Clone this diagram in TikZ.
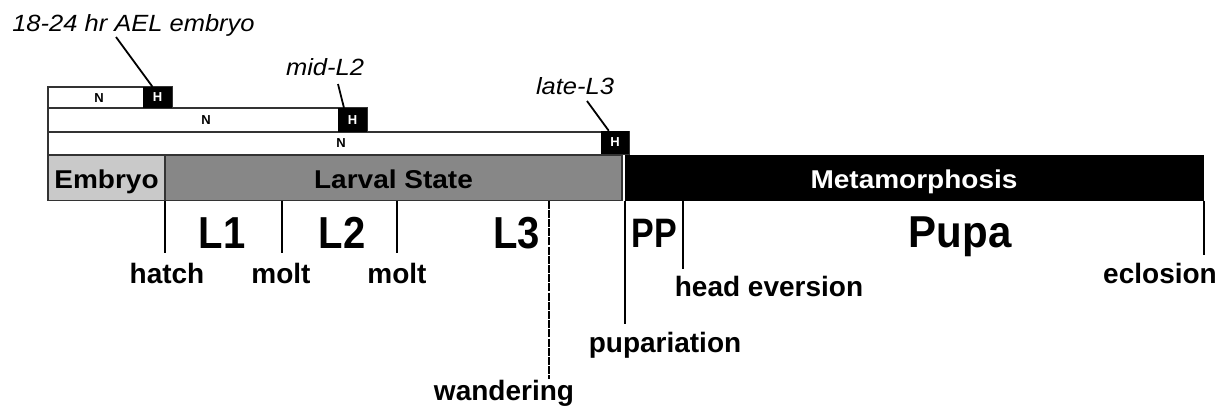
\documentclass[tikz,border=0pt]{standalone}
\usepackage{fontspec}
\setmainfont{Liberation Sans}
\usetikzlibrary{positioning}

\definecolor{embryogrey}{gray}{0.79}
\definecolor{larvalgrey}{gray}{0.53}
\definecolor{edgegrey}{gray}{0.2}

\tikzset{
  row/.style={draw=edgegrey, line width=1.2pt, fill=white},
  bar/.style={draw=edgegrey, line width=1.5pt},
  hbox/.style={fill=black, text=white, inner sep=0pt, minimum width=29pt, minimum height=21pt,
    font=\fontsize{13}{13}\selectfont\bfseries},
  nlbl/.style={inner sep=0pt, font=\fontsize{13}{13}\selectfont\bfseries},
  bartitle/.style={anchor=base, inner sep=0pt, font=\fontsize{28}{28}\selectfont\bfseries, yscale=0.92},
  stage/.style={anchor=base, inner sep=0pt, font=\fontsize{40}{40}\selectfont\bfseries, yscale=1.12},
  event/.style={anchor=base, inner sep=0pt, font=\fontsize{28}{28}\selectfont\bfseries},
  stamp/.style={anchor=base, inner sep=0pt, font=\fontsize{25.5}{25.5}\selectfont\itshape, yscale=0.92},
  leader/.style={line width=1.8pt},
  tick/.style={line width=2pt}
}

\begin{document}
\begin{tikzpicture}[x=1pt,y=-1pt]
\useasboundingbox (0,0) rectangle (1220,407);

% --- collection rows (N = normal, H = heat shock) ---
\draw[row] (48,87) rectangle (172,108);
\draw[row] (48,108) rectangle (367,132);
\draw[row] (48,132) rectangle (629,154.5);
\node[nlbl] (n1) at (99,98) {N};
\node[nlbl] (n2) at (206,120) {N};
\node[nlbl] (n3) at (341,143) {N};
\node[hbox] (h1) at (157.5,97.5) {H};
\node[hbox, minimum height=24pt] (h2) at (352.5,120) {H};
\node[hbox, minimum width=28pt, minimum height=23pt] (h3) at (615,142.5) {H};

% time points
\node[stamp] (s1) at (133.5,31.5) {18-24 hr AEL embryo};
\node[stamp] (s2) at (325,75.5) {mid-L2};
\node[stamp] (s3) at (575,94) {late-L3};
\coordinate (c1) at (116,37);
\coordinate (c2) at (338,84);
\coordinate (c3) at (587,101);
\draw[leader] (c1) -- (h1.115);
\draw[leader] (c2) -- (h2.125);
\draw[leader] (c3) -- (h3.118);

% --- main bar ---
\draw[bar, fill=embryogrey] (48,155) rectangle (165,200.5);
\draw[bar, fill=larvalgrey] (165,155) rectangle (622,200.5);
\fill[black] (624.8,155) rectangle (1204,200.5);
\node[bartitle] (embryo) at (106.5,188.5) {Embryo};
\node[bartitle] (larval) at (393.5,188) {Larval State};
\node[bartitle, text=white] (meta) at (914,188) {Metamorphosis};

% --- stages ---
\node[stage] (l1) at (222,248) {L1};
\node[stage] (l2) at (342,248) {L2};
\node[stage] (l3) at (516.5,248) {L3};
\node[stage, font=\fontsize{34}{34}\selectfont\bfseries, yscale=1.08] (pp) at (654.5,247) {PP};
\node[stage, font=\fontsize{42}{42}\selectfont\bfseries, yscale=0.95] (pupa) at (960,247) {Pupa};

% --- events ---
\foreach \x in {165,282,397} \draw[tick] (\x,200.5) -- (\x,253);
\draw[line width=1.1pt, dash pattern=on 8pt off 1.2pt] (549,200.5) -- (549,379);
\draw[tick] (624.8,200.5) -- (624.8,324);
\draw[tick] (683,200.5) -- (683,269);
\draw[tick] (1204,200.5) -- (1204,255);

\node[event] (hatch) at (167,283) {hatch};
\node[event] (molt1) at (281,283) {molt};
\node[event] (molt2) at (397,283) {molt};
\node[event] (wander) at (504,400) {wandering};
\node[event] (pupar) at (665,352) {pupariation};
\node[event] (evert) at (769,296) {head eversion};
\node[event] (eclose) at (1160,283) {eclosion};

\end{tikzpicture}
\end{document}
